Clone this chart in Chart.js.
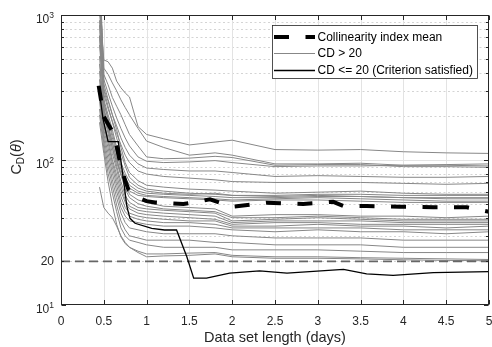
<!DOCTYPE html>
<html><head><meta charset="utf-8">
<script src="https://cdn.jsdelivr.net/npm/chart.js@4.4.1/dist/chart.umd.min.js"></script>
<style>html,body{margin:0;padding:0;background:#fff}canvas{display:block}</style>
</head><body>
<canvas id="c" width="492" height="347"></canvas>
<script>
// ---- data ----
const xValues = [0.45,0.5,0.55,0.6,0.65,0.7,0.75,0.8,0.9,1.0,1.2,1.5,1.8,2.0,2.5,3.0,3.5,4.0,4.5,5.0];
const cd01 = [1100,490,476,430,350,315,290,272,170,150,140,127,133,137,118,117,118,114,112,111];
const cd02 = [1600,430,390,340,300,260,230,205,165,135,122,108,112,108,94,94,95,92,92,91];
const cd03 = [2200,390,330,270,235,205,175,150,125,105,102,103,106,104,92,93,93,90,90,89];
const cd04 = [1300,360,290,235,195,165,142,125,105,98,96,97,99,96,90,91,91,92,93,94];
const cd05 = [850,310,255,205,172,142,122,108,94,88,86,84,84,82,77,78,77,76,76,77];
const cd06 = [720,285,225,185,152,128,108,96,84,80,77,75,73,71,70,70,70,69,68,69];
const cd07 = [1900,335,262,205,162,122,96,82,72,67,65,63,62,61,59,60,61,59,58,58];
const cd08 = [1150,305,235,182,142,112,91,76,67,63,61,59,58,57,57,58,58,57,57,57];
const cd09 = [620,262,205,162,122,96,81,71,64,61,59,58,59,57,56,57,56,55,55,55];
const cd10 = [2600,245,192,152,116,91,76,67,61,59,58,57,56,55,55,56,56,55,54,54];
const cd11 = [920,222,172,132,102,81,71,64,59,57,56,55,54,53,54,55,54,53,52,52];
const cd12 = [520,202,162,122,96,79,69,61,57,56,55,54,53,52,53,53,52,51,51,51];
const cd13 = [1450,252,192,142,111,86,69,58,53,51,48,47,46,41,42,42,41,41,40,41];
const cd14 = [720,232,172,132,101,79,63,55,50,48,46,45,44,40,40,41,40,39,39,39];
const cd15 = [460,212,162,121,91,71,57,51,47,46,45,44,43,38,39,40,39,38,38,38];
const cd16 = [3100,202,152,111,86,66,53,48,45,44,43,42,41,37,38,38,38,37,37,37];
const cd17 = [410,182,141,101,79,61,51,46,43,42,41,40,39,36,37,37,36,36,36,36];
const cd18 = [360,172,131,96,73,56,47,43,41,40,39,38,38,35,35,36,35,35,34,35];
const cd19 = [310,162,121,89,67,51,44,41,39,38,37,37,36,34,34,34,34,33,33,33];
const cd20 = [285,151,111,81,61,47,41,38,37,36,35,35,34,33,32,33,32,32,31,32];
const cd21 = [255,141,101,73,55,43,37,34,33,32,31,31,31,30,29,29,29,28,28,28];
const cd22 = [225,131,91,66,49,38,33,30,29,28,28,28,27,27,26,26,26,25,25,25];
const cd23 = [205,121,81,59,44,34,30,28,27,26,25,25,25,24,24,24,23.5,23,23,23];
const cd24 = [182,111,71,49,36,29.5,26.5,25,23.5,22.5,22.5,22.8,23,22,21.5,21.5,21.2,21,20.8,20.6];
const cd25 = [65,47,43,40,35,30,27,25,23,21.5,21.8,22,22.5,21.5,21,21,20.8,20.5,20.3,20.2];
const grayCurves = [cd01,cd02,cd03,cd04,cd05,cd06,cd07,cd08,cd09,cd10,cd11,cd12,cd13,cd14,cd15,cd16,cd17,cd18,cd19,cd20,cd21,cd22,cd23,cd24,cd25];

const meanX = [0.44,0.5,0.59,0.65,0.7,0.75,0.79,0.9,1.0,1.1,1.43,1.6,1.74,2.0,2.4,2.83,3.18,3.3,3.57,3.96,4.35,4.74,5.0];
const meanY = [325,199,161,124,90,72,62,55,52,51,49.7,51.5,53.6,47.6,50.8,49.7,51.5,48.2,48.2,47.6,47.2,47.2,44];

const satX = [0.44,0.49,0.55,0.67,0.73,0.77,0.806,0.865,1.06,1.21,1.35,1.47,1.55,1.7,1.97,2.32,2.64,3.3,3.57,3.88,4.35,5.0];
const satY = [324,194,134,134,73,47.6,39.6,36.6,33.8,32.9,32.9,21.5,15.3,15.3,16.6,17.2,16.6,17.6,16.4,16.0,16.7,17.0];

const threshold = 20;
const xRange = [0, 5];
const yRange = [10, 1000];
const xTicks = [0,0.5,1,1.5,2,2.5,3,3.5,4,4.5,5];
const xTickLabels = ['0','0.5','1','1.5','2','2.5','3','3.5','4','4.5','5'];
const yTicks = [10,20,100,1000];
const yTickLabels = [['10','1'],['20',''],['10','2'],['10','3']];
const xTitle = 'Data set length (days)';
const yTitleParts = ['C','D','(','θ',')'];
const legendLabels = ['Collinearity index mean','CD > 20','CD <= 20 (Criterion satisfied)'];

// ---- styles ----
const FONT = '"Liberation Sans", Arial, Helvetica, sans-serif';
const AXC = '#262626';
const GRAY = '#878787';
const MEAN_DASH = [15,16.5];
const THR_DASH = [9,5];

const pts = (xs, ys) => xs.map((x,i)=>({x:x, y:ys[i]}));

const datasets = [
  {label:legendLabels[0], data:pts(meanX,meanY), borderColor:'#000', borderWidth:4, borderDash:MEAN_DASH, borderCapStyle:'butt'},
  {label:legendLabels[2], data:pts(satX,satY), borderColor:'#000', borderWidth:1.3},
  {label:'threshold', data:pts(xRange,[threshold,threshold]), borderColor:'#666666', borderWidth:1.6, borderDash:THR_DASH},
];
grayCurves.forEach((c,i)=>datasets.push({label:legendLabels[1], data:pts(xValues,c), borderColor:GRAY, borderWidth:1}));
datasets.forEach(d=>{d.pointRadius=0; d.tension=0; d.fill=false;});

const decor = {
  id:'decor',
  beforeDatasetsDraw(chart){
    const {ctx, chartArea:a, scales:{x,y}} = chart;
    ctx.save();
    ctx.lineWidth = 1;
    ctx.strokeStyle = '#d4d4d4';
    ctx.setLineDash([2,2.5]);
    for (let d=1; d<=2; d++) for (let m=2; m<=9; m++){
      const py = Math.round(y.getPixelForValue(m*Math.pow(10,d)))+0.5;
      ctx.beginPath(); ctx.moveTo(a.left,py); ctx.lineTo(a.right,py); ctx.stroke();
    }
    ctx.setLineDash([]);
    ctx.strokeStyle = '#e3e3e3';
    xTicks.forEach(v=>{
      if (v<=xRange[0]||v>=xRange[1]) return;
      const px = Math.round(x.getPixelForValue(v))+0.5;
      ctx.beginPath(); ctx.moveTo(px,a.top); ctx.lineTo(px,a.bottom); ctx.stroke();
    });
    [100].forEach(v=>{
      const py = Math.round(y.getPixelForValue(v))+0.5;
      ctx.beginPath(); ctx.moveTo(a.left,py); ctx.lineTo(a.right,py); ctx.stroke();
    });
    ctx.restore();
  },
  afterDraw(chart){
    const {ctx, chartArea:a, scales:{x,y}} = chart;
    ctx.save();
    ctx.strokeStyle = AXC; ctx.lineWidth = 1;
    const L=Math.round(a.left)+0.5, R=Math.round(a.right)-0.5, T=Math.round(a.top)+0.5, B=Math.round(a.bottom)-0.5;
    ctx.strokeRect(L,T,R-L,B-T);
    ctx.beginPath();
    xTicks.forEach(v=>{
      const px = Math.round(x.getPixelForValue(v))+0.5;
      ctx.moveTo(px,B); ctx.lineTo(px,B-4.5);
      ctx.moveTo(px,T); ctx.lineTo(px,T+4.5);
    });
    for (let d=1; d<=3; d++){
      const py = Math.round(y.getPixelForValue(Math.pow(10,d)))+0.5;
      ctx.moveTo(L,py); ctx.lineTo(L+4.5,py); ctx.moveTo(R,py); ctx.lineTo(R-4.5,py);
    }
    for (let d=1; d<=2; d++) for (let m=2; m<=9; m++){
      const py = Math.round(y.getPixelForValue(m*Math.pow(10,d)))+0.5;
      ctx.moveTo(L,py); ctx.lineTo(L+2.5,py); ctx.moveTo(R,py); ctx.lineTo(R-2.5,py);
    }
    ctx.stroke();
    ctx.fillStyle = AXC;
    ctx.font = '12px '+FONT;
    ctx.textAlign = 'center'; ctx.textBaseline = 'middle';
    xTicks.forEach((v,i)=>ctx.fillText(xTickLabels[i], x.getPixelForValue(v), 322));
    yTicks.forEach((v,i)=>{
      const py = y.getPixelForValue(v);
      const [base, exp] = yTickLabels[i];
      const rx = 54;
      ctx.textAlign = 'right';
      if (exp){
        ctx.font = '8.5px '+FONT; ctx.textBaseline = 'middle';
        const ew = ctx.measureText(exp).width;
        ctx.fillText(exp, rx, py+0.5);
        ctx.font = '12px '+FONT;
        ctx.fillText(base, rx-ew, py+4.5);
      } else {
        ctx.font = '12px '+FONT; ctx.textBaseline = 'middle';
        ctx.fillText(base, rx, py+0.5);
      }
    });
    ctx.font = '14.5px '+FONT; ctx.textAlign = 'center'; ctx.textBaseline = 'middle';
    ctx.fillText(xTitle, (a.left+a.right)/2, 338);
    ctx.save();
    ctx.translate(20.5, 157);
    ctx.rotate(-Math.PI/2);
    ctx.textBaseline = 'alphabetic'; ctx.textAlign = 'left';
    const fonts = ['14.5px '+FONT,'10px '+FONT,'14.5px '+FONT,'italic 14.5px '+FONT,'14.5px '+FONT];
    const dy = [0,3.5,0,0,0];
    let tw = 0; const ws = [];
    yTitleParts.forEach((t,i)=>{ctx.font=fonts[i]; const w=ctx.measureText(t).width; ws.push(w); tw+=w;});
    let cx = -tw/2;
    yTitleParts.forEach((t,i)=>{ctx.font=fonts[i]; ctx.fillText(t, cx, dy[i]); cx+=ws[i];});
    ctx.restore();
    const bx=272.5, by=25.5, bw=205, bh=53;
    ctx.fillStyle='#fff'; ctx.fillRect(bx,by,bw,bh);
    ctx.strokeStyle=AXC; ctx.lineWidth=0.8; ctx.strokeRect(bx,by,bw,bh);
    const rows=[37,53.5,70.5];
    const lx0=274, lx1=315;
    ctx.strokeStyle='#000'; ctx.lineWidth=4; ctx.lineCap='butt'; ctx.setLineDash(MEAN_DASH);
    ctx.beginPath(); ctx.moveTo(lx0,rows[0]); ctx.lineTo(lx1,rows[0]); ctx.stroke();
    ctx.setLineDash([]);
    ctx.strokeStyle=GRAY; ctx.lineWidth=1;
    ctx.beginPath(); ctx.moveTo(lx0,rows[1]); ctx.lineTo(lx1,rows[1]); ctx.stroke();
    ctx.strokeStyle='#000'; ctx.lineWidth=1.3;
    ctx.beginPath(); ctx.moveTo(lx0,rows[2]); ctx.lineTo(lx1,rows[2]); ctx.stroke();
    ctx.fillStyle='#000'; ctx.font='12px '+FONT; ctx.textAlign='left'; ctx.textBaseline='middle';
    legendLabels.forEach((t,i)=>ctx.fillText(t, 317.5, rows[i]+0.5));
    ctx.restore();
  }
};

new Chart(document.getElementById('c'), {
  type:'line',
  data:{datasets:datasets},
  options:{
    responsive:false, animation:false, devicePixelRatio:1,
    layout:{padding:{top:15,right:3,left:0,bottom:0}},
    plugins:{legend:{display:false}, tooltip:{enabled:false}},
    scales:{
      x:{type:'linear', min:xRange[0], max:xRange[1], afterFit:s=>{s.height=42;}, grid:{display:false}, border:{display:false}, ticks:{display:false}},
      y:{type:'logarithmic', min:yRange[0], max:yRange[1], afterFit:s=>{s.width=61;}, grid:{display:false}, border:{display:false}, ticks:{display:false}}
    }
  },
  plugins:[decor]
});
</script>
</body></html>
